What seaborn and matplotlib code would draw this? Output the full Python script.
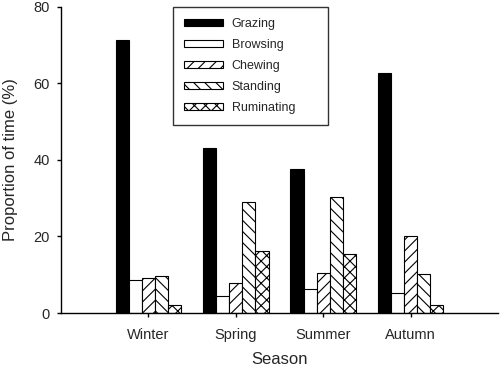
import matplotlib
matplotlib.use('Agg')
import matplotlib.pyplot as plt
from matplotlib.patches import Patch
import seaborn as sns
import pandas as pd

# data
seasons = ['Winter', 'Spring', 'Summer', 'Autumn']
activities = ['Grazing', 'Browsing', 'Chewing', 'Standing', 'Ruminating']
grazing = [71.4, 43.0, 37.6, 62.7]
browsing = [8.6, 4.4, 6.4, 5.3]
chewing = [9.1, 7.9, 10.4, 20.2]
standing = [9.6, 29.1, 30.2, 10.1]
ruminating = [2.1, 16.2, 15.4, 2.0]

fills = ['black', 'white', 'white', 'white', 'white']
hatches = ['', '', '///', '\\\\\\', 'xxx']

rows = []
for name, vals in zip(activities, [grazing, browsing, chewing, standing, ruminating]):
    for s, v in zip(seasons, vals):
        rows.append({'Season': s, 'Activity': name, 'Proportion': v})
df = pd.DataFrame(rows)

sns.set_style('ticks')
plt.rcParams['font.family'] = ['Liberation Sans', 'DejaVu Sans']
plt.rcParams['hatch.linewidth'] = 0.8

fig = plt.figure(figsize=(5, 3.67), dpi=100)
ax = fig.add_axes([0.122, 0.147, 0.874, 0.835])

sns.barplot(data=df, x='Season', y='Proportion', hue='Activity',
            order=seasons, hue_order=activities, palette=fills,
            edgecolor='black', linewidth=0.8, width=0.75, saturation=1,
            legend=False, ax=ax)

for cont, h in zip(ax.containers, hatches):
    for bar in cont:
        bar.set_hatch(h)

handles = [Patch(facecolor=f, edgecolor='black', hatch=h, linewidth=0.8, label=a)
           for a, f, h in zip(activities, fills, hatches)]
leg = ax.legend(handles=handles, loc='upper left',
                bbox_to_anchor=(0.256, 0.0, 0.355, 1.0), mode='expand',
                borderaxespad=0, fontsize=9, handlelength=3.1, handleheight=0.5,
                handletextpad=0.7, labelspacing=0.72, borderpad=0.9,
                fancybox=False, frameon=True)
leg.get_frame().set_edgecolor('black')
leg.get_frame().set_linewidth(1.0)

ax.set_xlim(-1, 4)
ax.set_ylim(0, 80)
ax.set_yticks([0, 20, 40, 60, 80])
ax.set_xlabel('Season', fontsize=12, labelpad=7)
ax.set_ylabel('Proportion of time (%)', fontsize=12, labelpad=11)
ax.tick_params(axis='both', labelsize=10.5, direction='out', length=3, width=1, color='black')
ax.tick_params(axis='x', pad=8)
ax.tick_params(axis='y', pad=5)
sns.despine(ax=ax)
for sp in ['left', 'bottom']:
    ax.spines[sp].set_linewidth(1.0)
    ax.spines[sp].set_color('black')

fig.savefig('out.png', dpi=100)
